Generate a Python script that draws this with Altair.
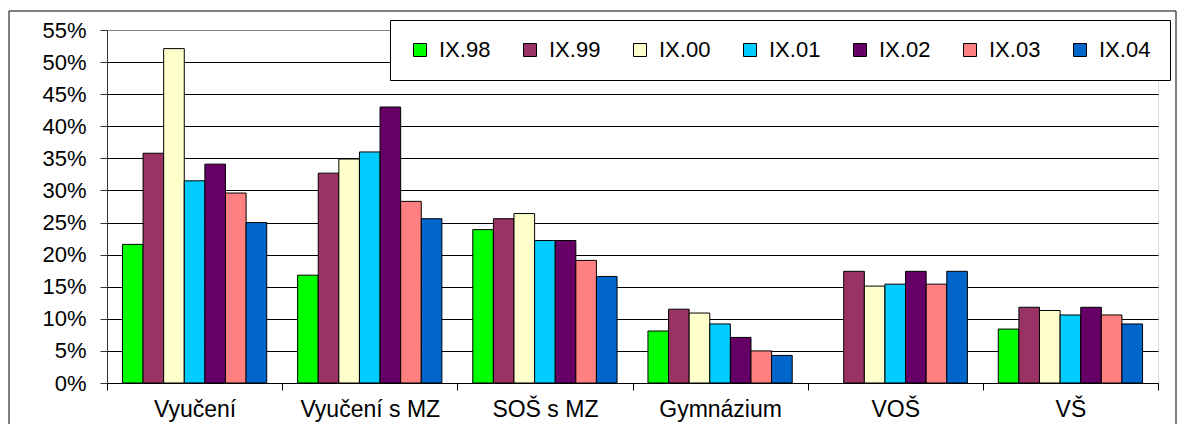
import altair as alt
import pandas as pd

categories = ["Vyučení", "Vyučení s MZ", "SOŠ s MZ", "Gymnázium", "VOŠ", "VŠ"]
series = ["IX.98", "IX.99", "IX.00", "IX.01", "IX.02", "IX.03", "IX.04"]
colors = ["#00FF00", "#993366", "#FFFFCC", "#00CCFF", "#660066", "#FF8080", "#0066CC"]

# values in percent, one list per series (order follows categories)
ix98 = [21.6, 16.8, 23.9, 8.1, None, 8.4]
ix99 = [35.8, 32.7, 25.6, 11.5, 17.4, 11.8]
ix00 = [52.1, 34.9, 26.4, 10.9, 15.1, 11.3]
ix01 = [31.5, 36.0, 22.2, 9.2, 15.4, 10.6]
ix02 = [34.1, 43.0, 22.2, 7.1, 17.4, 11.8]
ix03 = [29.6, 28.3, 19.1, 5.0, 15.4, 10.6]
ix04 = [25.0, 25.6, 16.6, 4.3, 17.4, 9.2]

y_ticks = [0, 5, 10, 15, 20, 25, 30, 35, 40, 45, 50, 55]

rows = []
for name, vals in zip(series, [ix98, ix99, ix00, ix01, ix02, ix03, ix04]):
    for cat, v in zip(categories, vals):
        rows.append({"cat": cat, "series": name,
                     "value": None if v is None else v / 100})
df = pd.DataFrame(rows)

FONT = "Liberation Sans"
W, H = 1051, 353

bars = alt.Chart(df).mark_bar(stroke="black", strokeWidth=1).encode(
    x=alt.X("cat:N", sort=categories,
            scale=alt.Scale(paddingInner=0, paddingOuter=0),
            axis=alt.Axis(title=None, labelAngle=0, tickBand="extent",
                          tickSize=7, labelPadding=8, labelFontSize=23,
                          labelFont=FONT, labelColor="black",
                          domainColor="black", tickColor="black",
                          grid=False)),
    xOffset=alt.XOffset("series:N", sort=series,
                        scale=alt.Scale(paddingInner=0, paddingOuter=0.75)),
    y=alt.Y("value:Q", scale=alt.Scale(domain=[0, 0.55], nice=False),
            axis=alt.Axis(title=None, format=".0%",
                          values=[t / 100 for t in y_ticks],
                          tickSize=7, labelPadding=14, labelFontSize=22,
                          labelFont=FONT, labelColor="black",
                          domainColor="#333333", tickColor="#333333",
                          grid=True,
                          gridColor={"condition": {"test": "datum.value >= 0.549",
                                                   "value": "#808080"},
                                     "value": "black"},
                          gridWidth=1)),
    color=alt.Color("series:N", sort=series,
                    scale=alt.Scale(domain=series, range=colors),
                    legend=alt.Legend(title=None, orient="none",
                                      legendX=283, legendY=-10,
                                      direction="horizontal", columns=7,
                                      symbolType="square", symbolSize=169,
                                      symbolStrokeColor="black",
                                      symbolStrokeWidth=1, symbolOpacity=1,
                                      labelFontSize=22, labelFont=FONT,
                                      labelColor="black", labelOffset=8,
                                      columnPadding=28, padding=19,
                                      fillColor="white", strokeColor="black")),
)

frame = alt.Chart(pd.DataFrame({"a": [0]})).mark_rect(
    fillOpacity=0, stroke="black", strokeWidth=1
).encode(x=alt.value(-98), x2=alt.value(1069), y=alt.value(-19), y2=alt.value(440))

chart = alt.layer(frame, bars).properties(
    width=W, height=H,
    autosize=alt.AutoSizeParams(type="none"),
    padding={"left": 99, "top": 22, "right": 20, "bottom": 41},
).configure_view(stroke="#808080", strokeWidth=1).configure(font=FONT)

chart.save("out.html", embed_options={"renderer": "svg", "actions": False})
